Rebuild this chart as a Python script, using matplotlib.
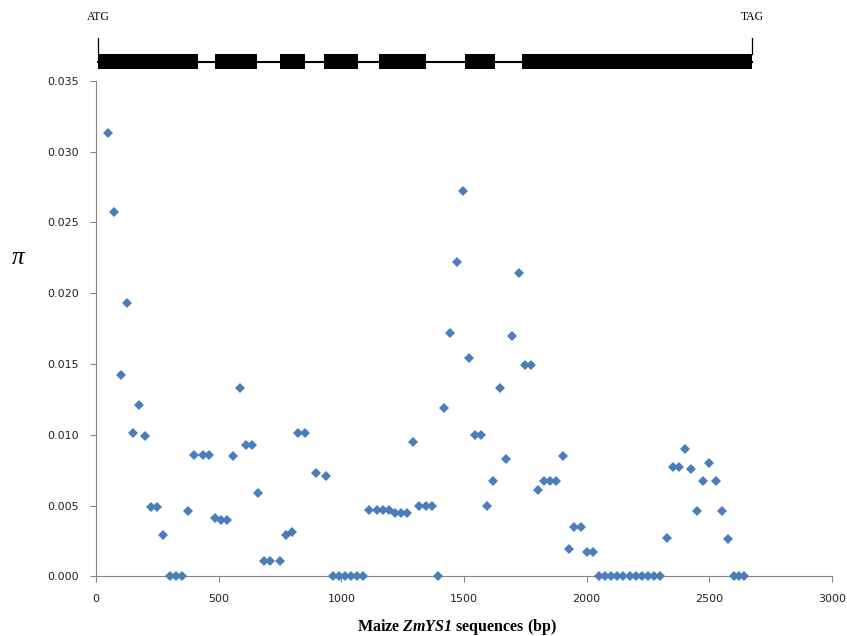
import numpy as np
import matplotlib
matplotlib.use('Agg')
import matplotlib.pyplot as plt

# nucleotide diversity (pi) along ZmYS1, sliding windows
pos_bp = [50, 75, 100, 125, 150, 175, 200, 225, 250, 275,
          300, 325, 350, 375, 400, 435, 460, 485, 510, 535,
          560, 585, 610, 637, 661, 685, 711, 750, 776, 800,
          825, 852, 896, 939, 965, 990, 1015, 1040, 1065, 1090,
          1114, 1144, 1169, 1194, 1219, 1243, 1269, 1294, 1318, 1345,
          1371, 1393, 1417, 1443, 1470, 1495, 1520, 1545, 1571, 1595,
          1620, 1646, 1670, 1697, 1725, 1750, 1775, 1800, 1825, 1851,
          1876, 1902, 1926, 1950, 1976, 2000, 2026,
          2050, 2075, 2100, 2125, 2150, 2175, 2200, 2225, 2250, 2275, 2300,
          2326, 2350, 2377, 2400, 2425, 2449, 2475, 2499, 2526, 2550,
          2575, 2600, 2622, 2641]
pi_vals = [0.0313, 0.0257, 0.0142, 0.0193, 0.0101, 0.0121, 0.0099, 0.0049, 0.0049, 0.0029,
           0.0, 0.0, 0.0, 0.0046, 0.0086, 0.0086, 0.0086, 0.0041, 0.0040, 0.0040,
           0.0085, 0.0133, 0.0093, 0.0093, 0.0059, 0.0011, 0.0011, 0.0011, 0.0029, 0.0031,
           0.0101, 0.0101, 0.0073, 0.0071, 0.0, 0.0, 0.0, 0.0, 0.0, 0.0,
           0.0047, 0.0047, 0.0047, 0.0047, 0.0045, 0.0045, 0.0045, 0.0095, 0.0050, 0.0050,
           0.0050, 0.0, 0.0119, 0.0172, 0.0222, 0.0272, 0.0154, 0.0100, 0.0100, 0.0050,
           0.0067, 0.0133, 0.0083, 0.0170, 0.0214, 0.0149, 0.0149, 0.0061, 0.0067, 0.0067,
           0.0067, 0.0085, 0.0019, 0.0035, 0.0035, 0.0017, 0.0017,
           0.0, 0.0, 0.0, 0.0, 0.0, 0.0, 0.0, 0.0, 0.0, 0.0, 0.0,
           0.0027, 0.0077, 0.0077, 0.0090, 0.0076, 0.0046, 0.0067, 0.0080, 0.0067, 0.0046,
           0.0026, 0.0, 0.0, 0.0]

# gene model (bp)
gene_start, gene_end = 9, 2675
exon_starts = [9, 485, 750, 929, 1154, 1506, 1735]
exon_ends = [414, 658, 850, 1066, 1347, 1628, 2675]

plt.rcParams['mathtext.fontset'] = 'custom'
plt.rcParams['mathtext.rm'] = 'Liberation Serif'
plt.rcParams['mathtext.it'] = 'Liberation Serif:italic'
plt.rcParams['mathtext.bf'] = 'Liberation Serif:bold'
plt.rcParams['mathtext.bfit'] = 'Liberation Serif:bold:italic'

grey = '#868686'
fig = plt.figure(figsize=(8.47, 6.36), dpi=100)
left, right = 96 / 847, 832 / 847
ax = fig.add_axes([left, 1 - 576.3 / 636, right - left, (576.3 - 80.7) / 636])

ax.plot(pos_bp, pi_vals, linestyle='none', marker='D', markersize=4.6,
        color='#4a7ebb', markeredgewidth=0, clip_on=False, zorder=3)
ax.set_xlim(0, 3000)
ax.set_ylim(0, 0.035)
ax.set_xticks(np.arange(0, 3001, 500))
ax.set_yticks(np.arange(0, 0.0351, 0.005))
ax.yaxis.set_major_formatter(matplotlib.ticker.FormatStrFormatter('%.3f'))
for s in ['top', 'right']:
    ax.spines[s].set_visible(False)
for s in ['left', 'bottom']:
    ax.spines[s].set_color(grey)
    ax.spines[s].set_linewidth(0.8)
ax.tick_params(direction='out', length=4, color=grey, width=0.8,
               labelsize=8, labelcolor='#222222')
ax.tick_params(axis='x', pad=9)
ax.tick_params(axis='y', pad=8)

fig.text(457 / 847, 1 - 627 / 636, r'Maize $\mathbfit{ZmYS1}$ sequences (bp)',
         family='Liberation Serif', fontweight='bold', fontsize=11.5,
         ha='center', va='center')
fig.text(18 / 847, 1 - 258 / 636, 'π', family='Liberation Serif', style='italic',
         fontsize=18, ha='center', va='center')

# gene structure on top
gax = fig.add_axes([left, 1 - 75 / 636, right - left, 75 / 636])
gax.set_xlim(0, 3000)
gax.set_ylim(0, 75)
gax.axis('off')
gax.plot([gene_start, gene_end], [13.5, 13.5], color='black', lw=1.5)
for s0, s1 in zip(exon_starts, exon_ends):
    gax.fill_between([s0, s1], 6.5, 21.5, color='black', lw=0)
gax.plot([gene_start, gene_start], [21, 37.5], color='black', lw=0.9)
gax.plot([gene_end, gene_end], [21, 37.5], color='black', lw=0.9)
gax.text(gene_start, 58, 'ATG', family='Liberation Serif', fontsize=8.5,
         ha='center', va='center')
gax.text(gene_end, 58, 'TAG', family='Liberation Serif', fontsize=8.5,
         ha='center', va='center')

fig.savefig('out.png', dpi=100)
